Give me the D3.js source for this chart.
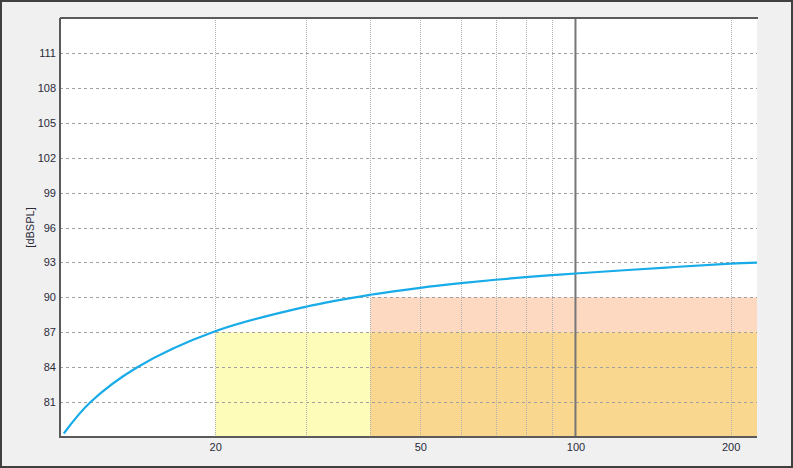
<!DOCTYPE html>
<html>
<head>
<meta charset="utf-8">
<script src="https://cdn.jsdelivr.net/npm/d3@7"></script>
<style>
  html, body { margin: 0; padding: 0; background: #f0f0f0; }
  svg { display: block; }
  text { font-family: "DejaVu Sans", Arial, sans-serif; }
</style>
</head>
<body>
<svg id="chart" width="793" height="468"></svg>
<script>
// ---- data ----
const curveFreq = [10.17, 11.45, 14.1, 20, 30, 40, 50, 60, 70, 80, 90, 100, 150, 200, 225];
const curveLevel = [78.3, 80.98, 83.97, 87.08, 89.19, 90.22, 90.82, 91.22, 91.51, 91.73, 91.9, 92.05, 92.56, 92.89, 92.98];
const yTicks = [81, 84, 87, 90, 93, 96, 99, 102, 105, 108, 111];
const xGrid = [20, 30, 40, 50, 60, 70, 80, 90, 200];
const xLabels = [20, 50, 100, 200];
const markerFreq = [100];
// shaded zones: [fromFreq, toFreq, fromLevel, toLevel]
const zoneFrom = [20, 40, 40];
const zoneTo = [225, 225, 225];
const zoneLow = [78, 87, 78];
const zoneHigh = [87, 90, 87];
const zoneColor = ["#fefcb9", "#fdd9c1", "#fad78f"];
const xDomain = [10, 225];
const yDomain = [78, 114];
const yTitle = "[dBSPL]";

// ---- layout ----
const W = 793, H = 468;
const L = 60, R = 757, T = 18, B = 437;
const svg = d3.select("#chart");

svg.append("rect").attr("x", 1).attr("y", 1).attr("width", W - 2).attr("height", H - 2)
  .attr("fill", "#f0f0f0").attr("stroke", "#404040").attr("stroke-width", 2);

const x = d3.scaleLog().domain(xDomain).range([L, R]);
const y = d3.scaleLinear().domain(yDomain).range([B, T]);

svg.append("rect").attr("x", L).attr("y", T).attr("width", R - L).attr("height", B - T).attr("fill", "#ffffff");

// zones
const zones = zoneFrom.map((f, i) => ({ f, t: zoneTo[i], lo: zoneLow[i], hi: zoneHigh[i], c: zoneColor[i] }));
svg.append("g").selectAll("rect").data(zones).join("rect")
  .attr("x", d => x(d.f)).attr("width", d => x(d.t) - x(d.f))
  .attr("y", d => y(d.hi)).attr("height", d => y(d.lo) - y(d.hi))
  .attr("fill", d => d.c);

// horizontal grid
svg.append("g").selectAll("line").data(yTicks).join("line")
  .attr("x1", L).attr("x2", R)
  .attr("y1", d => Math.round(y(d)) + 0.5).attr("y2", d => Math.round(y(d)) + 0.5)
  .attr("stroke", "#a0a0a0").attr("stroke-width", 1).attr("stroke-dasharray", "3,3");

// vertical grid
svg.append("g").selectAll("line").data(xGrid).join("line")
  .attr("x1", d => Math.round(x(d)) + 0.5).attr("x2", d => Math.round(x(d)) + 0.5)
  .attr("y1", T).attr("y2", B)
  .attr("stroke", "#b0b0b0").attr("stroke-width", 1).attr("stroke-dasharray", "1,1");

// marker line
svg.append("g").selectAll("line").data(markerFreq).join("line")
  .attr("x1", d => x(d)).attr("x2", d => x(d))
  .attr("y1", T).attr("y2", B)
  .attr("stroke", "#767676").attr("stroke-width", 2);

// curve
const pts = curveFreq.map((f, i) => [f, curveLevel[i]]);
svg.append("path").datum(pts)
  .attr("d", d3.line().x(d => x(d[0])).y(d => y(d[1])).curve(d3.curveCatmullRom.alpha(0.5)))
  .attr("fill", "none").attr("stroke", "#17abe8").attr("stroke-width", 2.2);

// axis frame lines
svg.append("line").attr("x1", L).attr("x2", L).attr("y1", T).attr("y2", B + 1).attr("stroke", "#5a5a5a").attr("stroke-width", 2);
svg.append("line").attr("x1", L).attr("x2", R).attr("y1", B).attr("y2", B).attr("stroke", "#5a5a5a").attr("stroke-width", 2);
svg.append("line").attr("x1", L).attr("x2", R + 1).attr("y1", T).attr("y2", T).attr("stroke", "#5a5a5a").attr("stroke-width", 2);

// y axis labels
const yAxis = d3.axisLeft(y).tickValues(yTicks).tickSize(0).tickPadding(4);
const gy = svg.append("g").attr("transform", `translate(${L},0)`).call(yAxis);
gy.select(".domain").remove();
gy.selectAll("text").attr("font-size", 11).attr("fill", "#2a2a3a").style("font-family", "Arial, 'Liberation Sans', sans-serif");

// x axis labels
const xAxis = d3.axisBottom(x).tickValues(xLabels).tickSize(0).tickPadding(6).tickFormat(d3.format("d"));
const gx = svg.append("g").attr("transform", `translate(0,${B})`).call(xAxis);
gx.select(".domain").remove();
gx.selectAll("text").attr("font-size", 11).attr("fill", "#2a2a3a").style("font-family", "Arial, 'Liberation Sans', sans-serif");

// y title
svg.append("text").attr("transform", `translate(34,${(T + B) / 2}) rotate(-90)`)
  .attr("text-anchor", "middle").attr("font-size", 11).attr("fill", "#2a2a3a")
  .style("font-family", "Arial, 'Liberation Sans', sans-serif")
  .text(yTitle);
</script>
</body>
</html>
